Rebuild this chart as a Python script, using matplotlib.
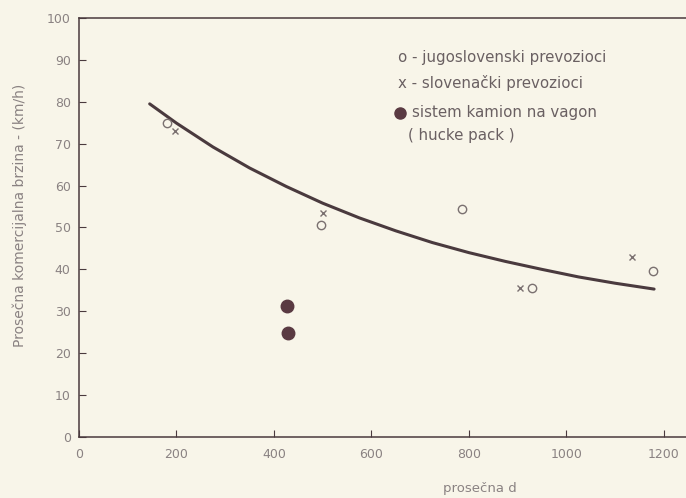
import matplotlib
matplotlib.use("Agg")
from matplotlib import pyplot as plt

# values
jugo_x = [180, 497, 785, 930, 1178]
jugo_y = [75.0, 50.5, 54.5, 35.5, 39.5]

slo_x = [197, 500, 905, 1135]
slo_y = [73.0, 53.5, 35.5, 43.0]

hucke_x = [427, 428]
hucke_y = [31.2, 24.8]

trend_x = [145, 200, 275, 350, 425, 500, 575, 650, 725, 800, 875, 950, 1025, 1100, 1180]
trend_y = [79.5, 74.9, 69.2, 64.2, 59.8, 55.8, 52.3, 49.2, 46.4, 44.0, 41.9, 40.0, 38.2, 36.7, 35.3]

x_ticks = [0, 200, 400, 600, 800, 1000, 1200]
y_ticks = [0, 10, 20, 30, 40, 50, 60, 70, 80, 90, 100]

paper = "#f8f5e9"
ink = "#4a3a3e"
pencil = "#7a7070"
faded = "#8a8282"

fig = plt.figure(figsize=(6.86, 4.98), dpi=100, facecolor=paper)
ax = fig.add_axes([0.1152, 0.1225, 0.888, 0.8414])
ax.set_facecolor(paper)

ax.plot(trend_x, trend_y, color=ink, linewidth=2.2, solid_capstyle="round",
        solid_joinstyle="round")
ax.plot(jugo_x, jugo_y, linestyle="none", marker="o", markersize=6,
        markerfacecolor="none", markeredgecolor=pencil, markeredgewidth=1.0)
ax.plot(slo_x, slo_y, linestyle="none", marker="x", markersize=5,
        color=pencil, markeredgewidth=1.0)
ax.plot(hucke_x, hucke_y, linestyle="none", marker="o", markersize=9,
        color="#5a3a42")

ax.set_xlim(0, 1250)
ax.set_ylim(0, 100)
ax.set_xticks(x_ticks)
ax.set_yticks(y_ticks)
ax.tick_params(direction="in", length=5, width=0.8, colors=ink,
               labelcolor=faded, labelsize=9)
ax.tick_params(axis="x", pad=8)
ax.tick_params(axis="y", pad=6)
for side in ["left", "bottom", "top"]:
    ax.spines[side].set_color(ink)
    ax.spines[side].set_linewidth(1.1)
ax.spines["right"].set_visible(False)

ax.set_ylabel("Prosečna komercijalna brzina - (km/h)", color=faded,
              fontsize=10)
ax.yaxis.set_label_coords(-0.085, 0.53)
fig.text(480 / 686, 1 - 488 / 498, "prosečna d", color=faded, fontsize=9.5,
         ha="center", va="center")

# hand-lettered key in the upper right
kw = dict(transform=ax.transAxes, color="#6a6062", fontsize=10.8, va="center")
ax.text(0.524, 0.906, "o - jugoslovenski prevozioci", **kw)
ax.text(0.524, 0.846, "x - slovenački prevozioci", **kw)
ax.plot([0.527], [0.774], transform=ax.transAxes, marker="o", markersize=8,
        color="#5a3a42", linestyle="none")
ax.text(0.547, 0.774, "sistem kamion na vagon", **kw)
ax.text(0.540, 0.719, "( hucke pack )", **kw)

fig.savefig("out.png", dpi=100, facecolor=paper)
